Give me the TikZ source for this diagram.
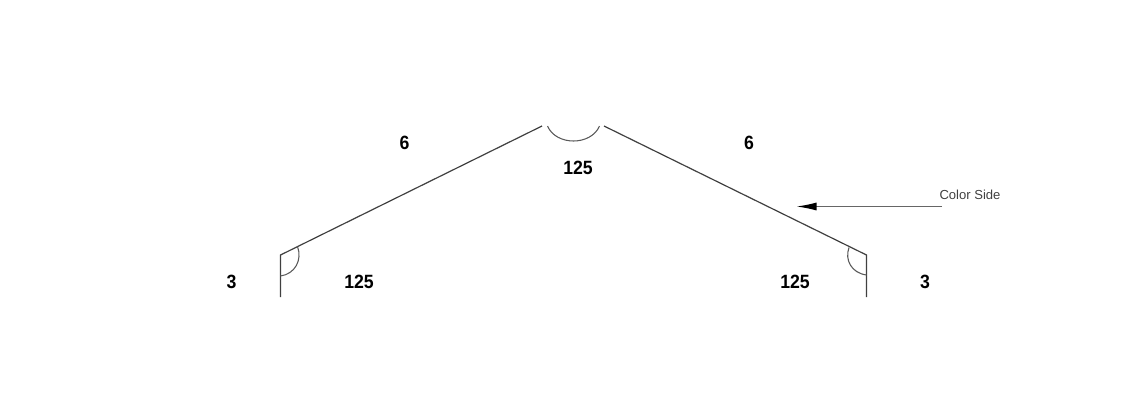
\documentclass[tikz,border=0pt]{standalone}
\usepackage{fontspec}
\setmainfont{Liberation Sans}
\newfontfamily\dimfont[FakeStretch=0.92]{Liberation Sans}
\usetikzlibrary{arrows.meta}
\tikzset{
  x=0.75pt,y=-0.75pt,
  profile/.style={draw=black!75,line width=0.9pt,line join=miter},
  anglearc/.style={draw=black!65,line width=0.8pt},
  dimlabel/.style={inner sep=0pt,font=\fontsize{14.4pt}{16pt}\dimfont\bfseries,text=black},
  calllabel/.style={inner sep=0pt,font=\fontsize{9.8pt}{11pt}\selectfont,text=black!75},
  callout/.style={draw=black!60,line width=0.9pt,-{Latex[length=15pt,width=6pt,black]}}
}
\begin{document}
\begin{tikzpicture}
\useasboundingbox (0,0) rectangle (1138,415);
\coordinate (la) at (280.5,297);
\coordinate (lb) at (280.5,255);
\coordinate (lc) at (542,126);
\coordinate (rc) at (604,126);
\coordinate (rb) at (866.5,255);
\coordinate (ra) at (866.5,297);
\draw[profile] (la) -- (lb) -- (lc);
\draw[profile] (rc) -- (rb) -- (ra);
\coordinate (m1) at (547.5,126);
\coordinate (m2) at (599.5,126);
\draw[anglearc] (m1) .. controls (556,146) and (591,146) .. (m2);
\coordinate (l1) at (297.5,246.5);
\coordinate (l2) at (280.5,276);
\draw[anglearc] (l1) .. controls (302.5,260) and (295,274) .. (l2);
\coordinate (r1) at (849,247.5);
\coordinate (r2) at (866.5,275);
\draw[anglearc] (r1) .. controls (844.5,260) and (851.5,273) .. (r2);
\node[dimlabel] (t6l) at (404.5,143) {6};
\node[dimlabel] (t6r) at (749,143) {6};
\node[dimlabel] (t125m) at (578,168) {125};
\node[dimlabel] (t3l) at (231.5,282) {3};
\node[dimlabel] (t125l) at (359,282) {125};
\node[dimlabel] (t125r) at (795,281.5) {125};
\node[dimlabel] (t3r) at (925,281.5) {3};
\node[calllabel] (cs) at (970,195) {Color Side};
\coordinate (as) at (942,206.5);
\coordinate (ae) at (796.5,206.5);
\draw[callout] (as) -- (ae);
\end{tikzpicture}
\end{document}
